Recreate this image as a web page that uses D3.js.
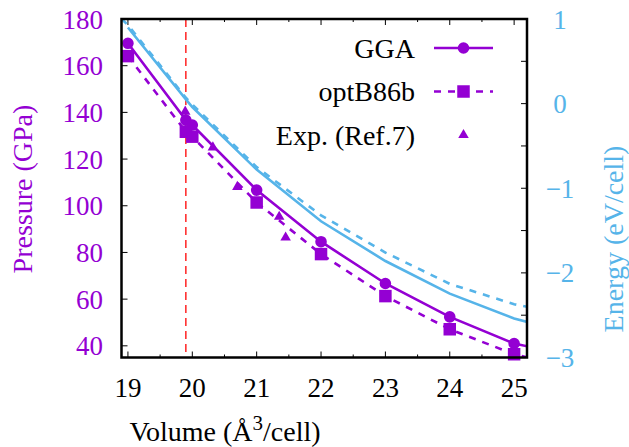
<!DOCTYPE html>
<html><head><meta charset="utf-8">
<script src="https://cdn.jsdelivr.net/npm/d3@7"></script>
</head><body style="margin:0">
<script>
// ---- data ----
const volumes   = [19, 19.9, 20, 21, 22, 23, 24, 25, 26];
const ggaP      = [169.6, 136.7, 134.6, 106.7, 84.6, 66.7, 52.4, 41.0, 35.0];
const optP      = [164.1, 131.7, 129.6, 101.4, 79.3, 61.3, 47.1, 36.4, 30.0];
const ggaE      = [0.90, 0.05, -0.04, -0.78, -1.39, -1.86, -2.245, -2.54, -2.74];
const optEVol   = [18.9, 19, 19.9, 20, 21, 22, 23, 24, 25, 26];
const optE      = [1.00, 0.93, 0.07, -0.01, -0.75, -1.32, -1.76, -2.13, -2.37, -2.52];
const expV      = [19.89, 20.32, 20.70, 21.35, 21.45];
const expP      = [140.3, 125.0, 108.1, 95.3, 86.4];
const eqVolume  = 19.9;
const xTicks    = [19, 20, 21, 22, 23, 24, 25];
const yTicks    = [40, 60, 80, 100, 120, 140, 160, 180];
const y2Ticks   = [-3, -2, -1, 0, 1];
const y2Minor   = [-2.5, -1.5, -0.5, 0.5];
const legendLabels = ["GGA", "optB86b", "Exp. (Ref.7)"];

const W = 629, H = 447;
const L = 121.5, R = 527, T = 19, B = 357.5;
const purple = "#9400D3", blue = "#56B4E9";
const fs = 27;
const FONT = "'Liberation Serif', Tinos, 'Times New Roman', serif";

const svg = d3.select("body").append("svg").attr("width", W).attr("height", H)
  .style("font-family", FONT);
const x = d3.scaleLinear().domain([18.9, 25.2]).range([L, R]);
const y = d3.scaleLinear().domain([35, 180]).range([B, T]);
const y2 = d3.scaleLinear().domain([-3, 1]).range([B, T]);

function label(sel) { return sel.append("text").style("font-family", FONT); }

svg.append("clipPath").attr("id", "clip").append("rect")
  .attr("x", L).attr("y", T).attr("width", R - L).attr("height", B - T);

// ticks
const tickG = svg.append("g").attr("stroke", "#000").attr("stroke-width", 1);
const xMinor = d3.range(19.5, 25.2, 1);
xTicks.forEach(v => {
  tickG.append("line").attr("x1", x(v)).attr("x2", x(v)).attr("y1", B).attr("y2", B - 6);
  tickG.append("line").attr("x1", x(v)).attr("x2", x(v)).attr("y1", T).attr("y2", T + 6);
});
xMinor.forEach(v => {
  tickG.append("line").attr("x1", x(v)).attr("x2", x(v)).attr("y1", B).attr("y2", B - 3);
  tickG.append("line").attr("x1", x(v)).attr("x2", x(v)).attr("y1", T).attr("y2", T + 3);
});
yTicks.forEach(v => {
  tickG.append("line").attr("x1", L).attr("x2", L + 6).attr("y1", y(v)).attr("y2", y(v));
});
y2Ticks.concat(y2Minor).forEach(v => {
  tickG.append("line").attr("x1", R).attr("x2", R - 6).attr("y1", y2(v)).attr("y2", y2(v));
});

// red equilibrium line
svg.append("line").attr("x1", x(eqVolume)).attr("x2", x(eqVolume)).attr("y1", T).attr("y2", B)
  .attr("stroke", "#ff0000").attr("stroke-width", 1.3).attr("stroke-dasharray", "8,5");

const plot = svg.append("g").attr("clip-path", "url(#clip)");
const lineP = d3.line().x(d => x(d[0])).y(d => y(d[1]));
const lineE = d3.line().x(d => x(d[0])).y(d => y2(d[1]));

plot.append("path").datum(d3.zip(volumes, ggaE)).attr("d", lineE)
  .attr("fill", "none").attr("stroke", blue).attr("stroke-width", 2.6);
plot.append("path").datum(d3.zip(optEVol, optE)).attr("d", lineE)
  .attr("fill", "none").attr("stroke", blue).attr("stroke-width", 2.6).attr("stroke-dasharray", "7,7");
plot.append("path").datum(d3.zip(volumes, ggaP)).attr("d", lineP)
  .attr("fill", "none").attr("stroke", purple).attr("stroke-width", 2.6);
plot.append("path").datum(d3.zip(volumes, optP)).attr("d", lineP)
  .attr("fill", "none").attr("stroke", purple).attr("stroke-width", 2.6).attr("stroke-dasharray", "7,7");

const inX = v => v >= 18.9 && v <= 25.2;
const circ = d3.symbol().type(d3.symbolCircle).size(Math.PI * 5.8 * 5.8);
const sq = d3.symbol().type(d3.symbolSquare).size(12.5 * 12.5);
const tri = d3.symbol().type(d3.symbolTriangle).size(48);

d3.zip(volumes, ggaP).filter(d => inX(d[0])).forEach(d => {
  svg.append("path").attr("d", circ()).attr("transform", `translate(${x(d[0])},${y(d[1])})`).attr("fill", purple);
});
d3.zip(volumes, optP).filter(d => inX(d[0])).forEach(d => {
  svg.append("path").attr("d", sq()).attr("transform", `translate(${x(d[0])},${y(d[1])})`).attr("fill", purple);
});
d3.zip(expV, expP).forEach(d => {
  svg.append("path").attr("d", tri()).attr("transform", `translate(${x(d[0])},${y(d[1])})`).attr("fill", purple);
});

// frame
svg.append("rect").attr("x", L).attr("y", T).attr("width", R - L).attr("height", B - T)
  .attr("fill", "none").attr("stroke", "#000").attr("stroke-width", 2.5);

// tick labels
xTicks.forEach(v => {
  label(svg).attr("x", x(v)).attr("y", 397).attr("text-anchor", "middle")
    .attr("font-size", fs).attr("fill", "#000").text(v);
});
yTicks.forEach(v => {
  label(svg).attr("x", 103).attr("y", y(v) + 9.5).attr("text-anchor", "end")
    .attr("font-size", fs).attr("fill", purple).text(v);
});
y2Ticks.forEach(v => {
  label(svg).attr("x", 560).attr("y", y2(v) + 9.5).attr("text-anchor", "middle")
    .attr("font-size", fs).attr("fill", blue).text(v < 0 ? "\u2212" + Math.abs(v) : v);
});

// axis titles
const xt = label(svg).attr("x", 225).attr("y", 441).attr("text-anchor", "middle")
  .attr("font-size", 28).attr("fill", "#000");
xt.append("tspan").text("Volume (Å");
xt.append("tspan").attr("dy", -11).attr("font-size", 21).text("3");
xt.append("tspan").attr("dy", 11).text("/cell)");

label(svg).attr("transform", "translate(32,189) rotate(-90)").attr("text-anchor", "middle")
  .attr("font-size", 28).attr("fill", purple).text("Pressure (GPa)");
label(svg).attr("transform", "translate(623,239) rotate(-90)").attr("text-anchor", "middle")
  .attr("font-size", 28).attr("fill", blue).text("Energy (eV/cell)");

// legend
const legY = [48, 91.5, 135];
const lx1 = 434, lx2 = 493, lm = 463.5;
legendLabels.forEach((t, i) => {
  label(svg).attr("x", 415).attr("y", legY[i] + 9.5).attr("text-anchor", "end")
    .attr("font-size", 28).attr("fill", "#000").text(t);
});
svg.append("line").attr("x1", lx1).attr("x2", lx2).attr("y1", legY[0]).attr("y2", legY[0])
  .attr("stroke", purple).attr("stroke-width", 2.6);
svg.append("path").attr("d", circ()).attr("transform", `translate(${lm},${legY[0]})`).attr("fill", purple);
svg.append("line").attr("x1", lx1).attr("x2", lx2).attr("y1", legY[1]).attr("y2", legY[1])
  .attr("stroke", purple).attr("stroke-width", 2.6).attr("stroke-dasharray", "7,7");
svg.append("path").attr("d", sq()).attr("transform", `translate(${lm},${legY[1]})`).attr("fill", purple);
svg.append("path").attr("d", tri()).attr("transform", `translate(${lm},${legY[2]})`).attr("fill", purple);
</script>
</body></html>
